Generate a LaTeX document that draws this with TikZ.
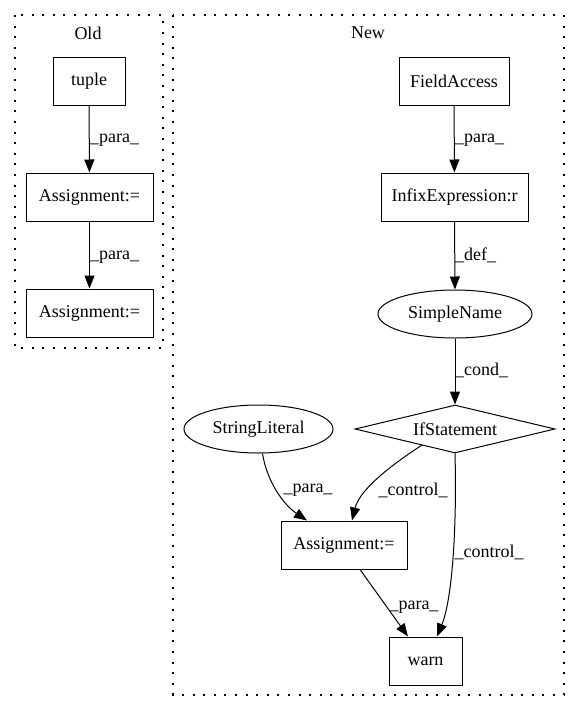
\documentclass[tikz,border=0pt]{standalone}
\usepackage{fontspec}
\setmainfont{Liberation Serif}
\usetikzlibrary{arrows.meta,shapes.geometric}
\begin{document}
\begin{tikzpicture}[x=1pt,y=-1pt,
  every node/.style={font=\fontsize{18}{22}\selectfont},
  box/.style={draw,line width=1pt,rectangle,inner sep=0pt,minimum height=48pt},
  ell/.style={draw,line width=1pt,ellipse,inner sep=0pt,minimum height=48pt},
  dia/.style={draw,line width=1pt,diamond,aspect=4.17,inner sep=0pt,minimum height=48pt,minimum width=200pt},
  cluster/.style={draw,line width=1.3pt,dash pattern=on 2pt off 8.6pt},
  edge/.style={draw,line width=1pt,-{Triangle[length=13pt,width=10pt]}},
  lbl/.style={inner sep=0pt}
]
\useasboundingbox (0,0) rectangle (580,712);
% clusters
\draw[cluster] (15,15) rectangle (163,348);
\draw[cluster] (173,15) rectangle (564,695);
\node[lbl] (oldlbl) at (88,33) {Old};
\node[lbl] (newlbl) at (368,33) {New};
% Old nodes
\node[box,minimum width=72pt] (tuple) at (89,81) {tuple};
\node[box,minimum width=127pt] (a1) at (89.5,197) {Assignment:=};
\node[box,minimum width=127pt] (a2) at (89.5,313) {Assignment:=};
% New nodes
\node[box,minimum width=110pt] (fa) at (454,81) {FieldAccess};
\node[box,minimum width=147pt] (infix) at (454.5,197) {InfixExpression:r};
\node[ell,minimum width=154pt] (sn) at (455,314) {SimpleName};
\node[dia] (if) at (455,429) {IfStatement};
\node[ell,minimum width=149pt] (sl) at (258.5,429) {StringLiteral};
\node[box,minimum width=126pt] (a3) at (344,545) {Assignment:=};
\node[box,minimum width=73pt] (warn) at (425.5,661) {warn};
% Old edges
\draw[edge] (tuple) -- (a1);
\node[lbl,anchor=west] (l1) at (90,140) {\_para\_};
\draw[edge] (a1) -- (a2);
\node[lbl,anchor=west] (l2) at (90,257) {\_para\_};
% New edges
\draw[edge] (fa) -- (infix);
\node[lbl,anchor=west] (l3) at (455,140) {\_para\_};
\draw[edge] (infix) -- (sn);
\node[lbl,anchor=west] (l4) at (455,255) {\_def\_};
\draw[edge] (sn) -- (if);
\node[lbl,anchor=west] (l5) at (455,370) {\_cond\_};
\path (sl.south) ++(4,0) coordinate (slb);
\draw[edge] (slb) .. controls (267,482) and (284,505) .. (a3.north west -| 307,0);
\node[lbl] (l6) at (308,490) {\_para\_};
\path (if.south west) ++(17,4) coordinate (ifl);
\draw[edge] (ifl) .. controls (396,462) and (360,488) .. (a3.north -| 352,0);
\node[lbl] (l7) at (413,490) {\_control\_};
\draw[edge] (if.south) .. controls (457,530) and (452,600) .. (warn.north -| 437,0);
\node[lbl] (l8) at (489,552) {\_control\_};
\draw[edge] (a3.south -| 360,0) -- (warn.north -| 408,0);
\node[lbl] (l9) at (414,607) {\_para\_};
\end{tikzpicture}
\end{document}
